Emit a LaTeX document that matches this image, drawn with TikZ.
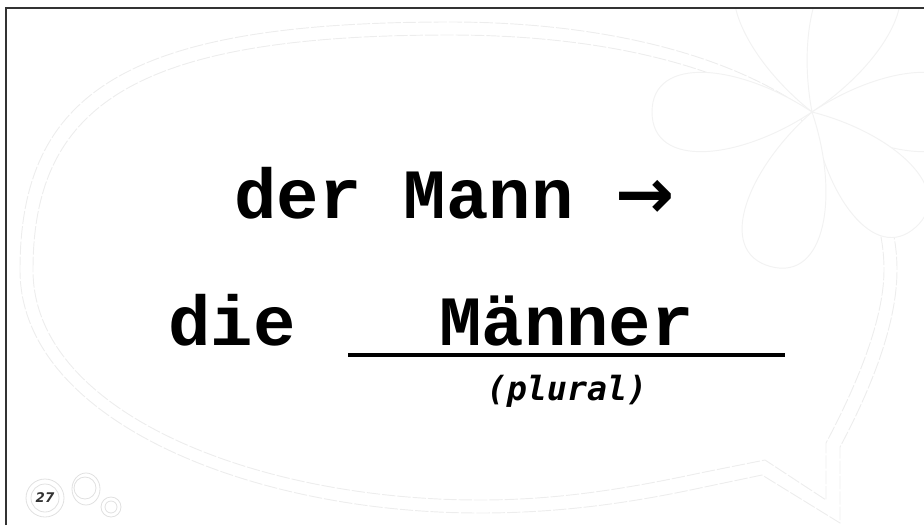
\documentclass[tikz,border=0pt]{standalone}
\usepackage{fontspec}
\setmonofont{Liberation Mono}
\setsansfont{DejaVu Sans}
\newfontfamily\arrowFont{DejaVu Sans}
\newfontfamily\noteFont{DejaVu Sans Mono}[ItalicFont={* Oblique}, BoldItalicFont={* Bold Oblique}]
\usepackage{tikz}
\usetikzlibrary{calc, positioning}
\tikzset{
    frameLine/.style={draw=black!80, line width=1.4pt},
    bubbleLine/.style={draw=black!7, line width=0.7pt, dash pattern=on 10pt off 1.5pt},
    petalLine/.style={draw=black!5, line width=0.7pt, fill=white},
    badgeLine/.style={draw=black!12, line width=0.6pt},
    wordText/.style={inner sep=0pt, font=\ttfamily\bfseries\fontsize{53pt}{60pt}\selectfont},
    noteText/.style={inner sep=0pt, font=\noteFont\bfseries\itshape\fontsize{25pt}{30pt}\selectfont},
    badgeText/.style={inner sep=0pt, text=black!80, font=\sffamily\bfseries\itshape\fontsize{10pt}{12pt}\selectfont},
    blankLine/.style={line width=3.4pt, line cap=butt},
}
\newcommand{\drawPetal}[2]{
    % one petal, tip at the flower centre
    \begin{scope}[shift={(flowerC)}, rotate=#1]
        \path[petalLine] (0,0) .. controls (0.45*#2, 0.3*#2) and (#2, 0.36*#2) .. (#2, 0)
            .. controls (#2, -0.36*#2) and (0.45*#2, -0.3*#2) .. (0,0);
    \end{scope}
}

\begin{document}
\begin{tikzpicture}[x=0.75pt, y=-0.75pt]
    \useasboundingbox (0,0) rectangle (924,525);

    \begin{scope}
        \clip (6,8) rectangle (924,525);

        % speech bubble
        \draw[bubbleLine] (20,270) .. controls (20,90) and (130,22) .. (450,22)
            .. controls (700,22) and (897,110) .. (897,270)
            .. controls (897,330) and (865,400) .. (840,447)
            -- (840,523) -- (762,475) -- (700,488)
            .. controls (630,503) and (560,513) .. (480,513)
            .. controls (250,513) and (20,420) .. (20,270) -- cycle;
        \draw[bubbleLine] (33,270) .. controls (33,102) and (140,35) .. (450,35)
            .. controls (695,35) and (884,115) .. (884,270)
            .. controls (884,325) and (850,398) .. (826,443)
            -- (826,500) -- (765,460) -- (700,473)
            .. controls (630,488) and (560,500) .. (480,500)
            .. controls (255,500) and (33,412) .. (33,270) -- cycle;

        % flower
        \coordinate (flowerC) at (812,112);
        \drawPetal{108}{165}
        \drawPetal{67}{165}
        \drawPetal{0}{160}
        \drawPetal{312}{155}
        \drawPetal{255}{160}
        \drawPetal{180}{160}
    \end{scope}

    % frame
    \draw[frameLine] (6,525) -- (6,8) -- (924,8);

    % words
    \node[wordText, anchor=base west] (rowMann) at (234,218) {der Mann {\arrowFont\bfseries →}};
    \node[wordText, anchor=base west] (rowDie) at (168,345) {die};
    \coordinate (blankL) at (348,355);
    \coordinate (blankR) at (785,355);
    \draw[blankLine] (blankL) -- (blankR);
    \node[wordText, anchor=base] (wordMaenner) at ($(blankL)!0.5!(blankR) + (0,-10)$) {Männer};
    \node[noteText, anchor=base] (notePlural) at (567,400) {(plural)};

    % page badge
    \node[badgeText] (badge) at (45,498) {27};
    \draw[badgeLine] (badge) circle[radius=19];
    \draw[badgeLine] (badge) circle[radius=14];
    \coordinate (bubbleA) at (86,489);
    \draw[badgeLine] (bubbleA) ellipse[x radius=14, y radius=16];
    \draw[badgeLine] ($(bubbleA)+(-1,-1)$) circle[radius=11];
    \coordinate (bubbleB) at (111,507);
    \draw[badgeLine] (bubbleB) circle[radius=10];
    \draw[badgeLine] (bubbleB) circle[radius=6];
\end{tikzpicture}
\end{document}
